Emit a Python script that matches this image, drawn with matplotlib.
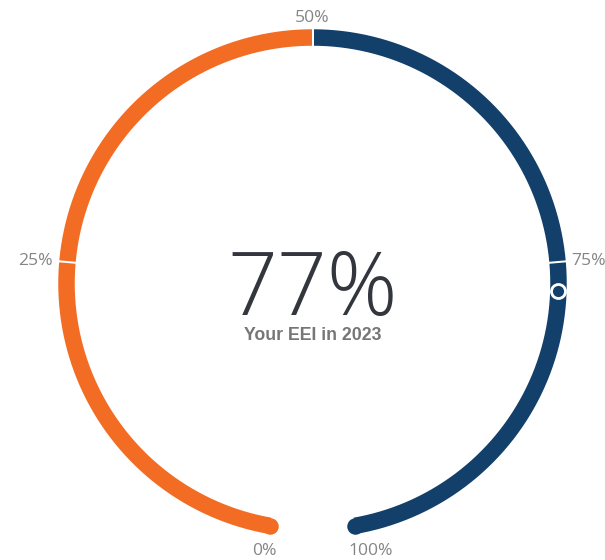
import numpy as np
import matplotlib
matplotlib.use("Agg")
import matplotlib.pyplot as plt

# ---- data ----
tick_values = [0, 25, 50, 75, 100]
tick_labels = ["0%", "25%", "50%", "75%", "100%"]
segment_ranges = [(0, 50), (50, 100)]
segment_colors = ["#F36C23", "#12406A"]
current_value = 77
center_label = "77%"
sub_label = "Your EEI in 2023"

# ---- layout ----
W, H = 605, 560
cx, cy = 312.5, 283.5
R = 246.0
ring_px = 16.5
px2pt = 72 / 100
start_deg, sweep_deg = 260.0, 340.0


def ang(v):
    return np.deg2rad(start_deg - sweep_deg * v / 100.0)


def pt(v, r):
    a = ang(v)
    return cx + r * np.cos(a), cy - r * np.sin(a)


fig = plt.figure(figsize=(W / 100, H / 100), dpi=100)
ax = fig.add_axes([0, 0, 1, 1])
ax.set_xlim(0, W)
ax.set_ylim(H, 0)
ax.axis("off")

lw = ring_px * px2pt
for (a, b), col in zip(segment_ranges, segment_colors):
    vs = np.linspace(a, b, 400)
    xs, ys = pt(vs, R)
    ax.plot(xs, ys, color=col, lw=lw, solid_capstyle="butt", zorder=2)

# rounded ends
x0, y0 = pt(tick_values[0], R)
x1, y1 = pt(tick_values[-1], R)
ax.plot([x0], [y0], "o", ms=lw, mew=0, color=segment_colors[0], zorder=2)
ax.plot([x1], [y1], "o", ms=lw, mew=0, color=segment_colors[-1], zorder=2)

# white tick gaps
for v in tick_values[1:-1]:
    xa, ya = pt(v, R - 10)
    xb, yb = pt(v, R + 10)
    ax.plot([xa, xb], [ya, yb], color="white", lw=2.0 * px2pt, zorder=3,
            solid_capstyle="butt")

# marker
mx, my = pt(current_value, R)
ax.plot([mx], [my], "o", ms=14 * px2pt, mfc=segment_colors[1], mec="white",
        mew=2.8 * px2pt, zorder=4)

# tick labels
lab_font = dict(family="Open Sans", fontsize=12.6, color="#858585")
styles = {
    0: dict(xy=(277, 555), ha="right"),
    25: dict(xy=(53, 265), ha="right"),
    50: dict(xy=(312.5, 22.5), ha="center"),
    75: dict(xy=(571.5, 265), ha="left"),
    100: dict(xy=(348, 555), ha="left"),
}
for v, lab in zip(tick_values, tick_labels):
    s = styles[v]
    ax.text(s["xy"][0], s["xy"][1], lab, ha=s["ha"], va="baseline", **lab_font)

# centre text
ax.text(cx, 315, center_label, ha="center", va="baseline", fontsize=63,
        family="Open Sans", fontweight="light", color="#33373D")
ax.text(cx, 340, sub_label, ha="center", va="baseline", fontsize=12.8,
        family="Liberation Sans", fontweight="bold", color="#767676")

fig.savefig("out.png", dpi=100)
